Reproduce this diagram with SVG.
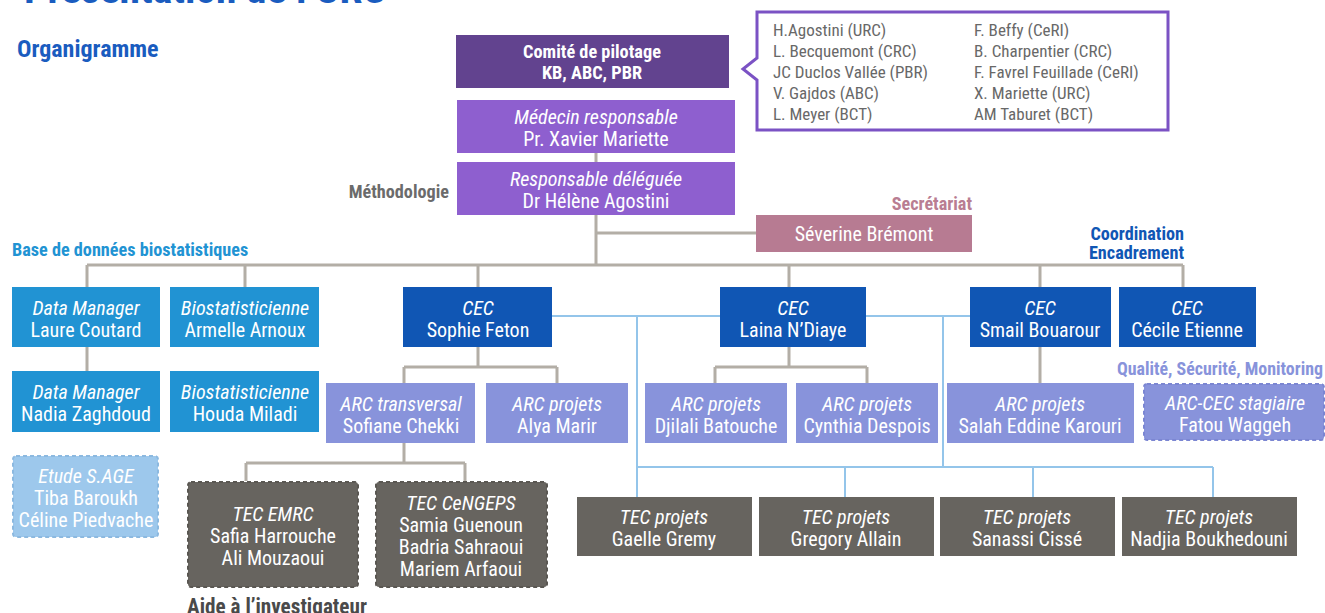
<svg xmlns="http://www.w3.org/2000/svg" width="1325" height="613" viewBox="0 0 1325 613">
<style>
text{font-family:Roboto,"Liberation Sans",sans-serif;font-stretch:condensed;}
.n{font-size:20px;fill:#fff;text-anchor:middle;}
.s15{font-size:18.3px;}
.i{font-style:italic;}
.b{font-weight:bold;}
.lbl{font-weight:bold;font-size:18.2px;}
.cl{font-size:17px;fill:#686868;}
.g{stroke:#b3aea6;stroke-width:3;fill:none;}
.bl{stroke:#94c5ea;stroke-width:2;fill:none;}
.dm{fill:#2193d3;}
.cec{fill:#1056b4;}
.arc{fill:#8893db;}
.tec{fill:#67645f;}
</style>
<rect width="1325" height="613" fill="#fff"/>
<text x="24" y="3" font-size="41.5" font-weight="bold" fill="#1a5cbf">Présentation de l’URC</text>
<text x="17" y="57" font-size="24" class="b" fill="#1a5cbf">Organigramme</text>
<text x="449" y="198" class="lbl" fill="#6b6b6b" text-anchor="end">Méthodologie</text>
<text x="972" y="210" class="lbl" fill="#b97d92" text-anchor="end">Secrétariat</text>
<text x="12" y="256" class="lbl" fill="#2193d3">Base de données biostatistiques</text>
<text x="1184" y="240" class="lbl" fill="#1056b4" text-anchor="end">Coordination</text>
<text x="1184" y="259" class="lbl" fill="#1056b4" text-anchor="end">Encadrement</text>
<text x="1117" y="375" class="lbl" fill="#8893db" style="font-size:17.9px">Qualité, Sécurité, Monitoring</text>
<text x="187" y="614" class="lbl" fill="#4a4a4a" style="font-size:21.2px">Aide à l’investigateur</text>

<g id="connectors">
<path class="g" d="M596,153V162M596,215V265M596,233H756M87,265H1183M87,265V287M245,265V287M478,265V287M789,265V287M1040,265V287M1183,265V287M87,347V371"/>
<path class="g" d="M478,347V367M404,367H557M404,367V383M557,367V383M789,347V367M715,367H867M715,367V383M867,367V383M1040,347V383"/>
<path class="g" d="M404,443V463M246,463H465M246,463V481M465,463V481"/>
<path class="bl" d="M552,316H720M866,316H970M637,316V497M943,316V467M637,467H1213M845,467V497M1033,467V497M1213,467V497"/>
</g>

<g id="comite"><rect x="456" y="35" width="273" height="53" fill="#62438f"/>
<text x="592" y="58" class="n b s15">Comité de pilotage</text><text x="592" y="79" class="n b s15">KB, ABC, PBR</text></g>
<g id="callout"><path d="M757,12H1168V130H757V80L743,69L757,58Z" fill="#fff" stroke="#7b52c4" stroke-width="3"/>
<text class="cl"><tspan x="773" y="36">H.Agostini (URC)</tspan><tspan x="773" y="57">L. Becquemont (CRC)</tspan><tspan x="773" y="78">JC Duclos Vallée (PBR)</tspan><tspan x="773" y="99">V. Gajdos (ABC)</tspan><tspan x="773" y="120">L. Meyer (BCT)</tspan></text>
<text class="cl"><tspan x="974" y="36">F. Beffy (CeRI)</tspan><tspan x="974" y="57">B. Charpentier (CRC)</tspan><tspan x="974" y="78">F. Favrel Feuillade (CeRI)</tspan><tspan x="974" y="99">X. Mariette (URC)</tspan><tspan x="974" y="120">AM Taburet (BCT)</tspan></text></g>
<g id="medecin"><rect x="457" y="100" width="278" height="53" fill="#8e5fcf"/>
<text x="596" y="124" class="n i">Médecin responsable</text><text x="596" y="146" class="n">Pr. Xavier Mariette</text></g>
<g id="responsable"><rect x="457" y="162" width="278" height="53" fill="#8e5fcf"/>
<text x="596" y="186" class="n i">Responsable déléguée</text><text x="596" y="208" class="n">Dr Hélène Agostini</text></g>
<g id="severine"><rect x="756" y="215" width="216" height="37" fill="#b77b92"/>
<text x="864" y="241" class="n">Séverine Brémont</text></g>

<g id="dm1"><rect class="dm" x="12" y="287" width="148" height="60"/><text x="86" y="315" class="n i">Data Manager</text><text x="86" y="337" class="n">Laure Coutard</text></g>
<g id="bio1"><rect class="dm" x="170" y="287" width="149" height="60"/><text x="245" y="315" class="n i">Biostatisticienne</text><text x="245" y="337" class="n">Armelle Arnoux</text></g>
<g id="dm2"><rect class="dm" x="12" y="371" width="148" height="61"/><text x="86" y="399" class="n i">Data Manager</text><text x="86" y="421" class="n">Nadia Zaghdoud</text></g>
<g id="bio2"><rect class="dm" x="170" y="371" width="149" height="61"/><text x="245" y="399" class="n i">Biostatisticienne</text><text x="245" y="421" class="n">Houda Miladi</text></g>
<g id="sage"><rect x="13" y="456" width="145" height="81" rx="3" fill="#9dc8ec" stroke="#8cb9e0" stroke-width="2" stroke-dasharray="4 3"/>
<text x="86" y="483" class="n i">Etude S.AGE</text><text x="86" y="505" class="n">Tiba Baroukh</text><text x="86" y="527" class="n">Céline Piedvache</text></g>

<g id="cec1"><rect class="cec" x="403" y="287" width="149" height="60"/><text x="478" y="315" class="n i">CEC</text><text x="478" y="337" class="n">Sophie Feton</text></g>
<g id="cec2"><rect class="cec" x="720" y="287" width="146" height="60"/><text x="793" y="315" class="n i">CEC</text><text x="793" y="337" class="n">Laina N’Diaye</text></g>
<g id="cec3"><rect class="cec" x="970" y="287" width="141" height="60"/><text x="1040" y="315" class="n i">CEC</text><text x="1040" y="337" class="n">Smail Bouarour</text></g>
<g id="cec4"><rect class="cec" x="1119" y="287" width="137" height="60"/><text x="1187" y="315" class="n i">CEC</text><text x="1187" y="337" class="n">Cécile Etienne</text></g>

<g id="arc1"><rect class="arc" x="326" y="383" width="149" height="60"/><text x="401" y="411" class="n i">ARC transversal</text><text x="401" y="433" class="n">Sofiane Chekki</text></g>
<g id="arc2"><rect class="arc" x="486" y="383" width="142" height="60"/><text x="557" y="411" class="n i">ARC projets</text><text x="557" y="433" class="n">Alya Marir</text></g>
<g id="arc3"><rect class="arc" x="645" y="383" width="142" height="60"/><text x="716" y="411" class="n i">ARC projets</text><text x="716" y="433" class="n">Djilali Batouche</text></g>
<g id="arc4"><rect class="arc" x="796" y="383" width="142" height="60"/><text x="867" y="411" class="n i">ARC projets</text><text x="867" y="433" class="n">Cynthia Despois</text></g>
<g id="arc5"><rect class="arc" x="947" y="383" width="187" height="60"/><text x="1040" y="411" class="n i">ARC projets</text><text x="1040" y="433" class="n">Salah Eddine Karouri</text></g>
<g id="arc6"><rect x="1144" y="384" width="180" height="56" rx="3" fill="#8893db" stroke="#7b86d2" stroke-width="2" stroke-dasharray="4 3"/><text x="1235" y="410" class="n i">ARC-CEC stagiaire</text><text x="1235" y="432" class="n">Fatou Waggeh</text></g>

<g id="tecemrc"><rect x="188" y="482" width="170" height="105" rx="3" fill="#67645f" stroke="#5a5752" stroke-width="2" stroke-dasharray="4 3"/>
<text x="273" y="521" class="n i">TEC EMRC</text><text x="273" y="543" class="n">Safia Harrouche</text><text x="273" y="565" class="n">Ali Mouzaoui</text></g>
<g id="teccengeps"><rect x="376" y="482" width="171" height="105" rx="3" fill="#67645f" stroke="#5a5752" stroke-width="2" stroke-dasharray="4 3"/>
<text x="461" y="510" class="n i">TEC CeNGEPS</text><text x="461" y="532" class="n">Samia Guenoun</text><text x="461" y="554" class="n">Badria Sahraoui</text><text x="461" y="576" class="n">Mariem Arfaoui</text></g>

<g id="tec1"><rect class="tec" x="577" y="497" width="175" height="59"/><text x="664" y="524" class="n i">TEC projets</text><text x="664" y="546" class="n">Gaelle Gremy</text></g>
<g id="tec2"><rect class="tec" x="759" y="497" width="175" height="59"/><text x="846" y="524" class="n i">TEC projets</text><text x="846" y="546" class="n">Gregory Allain</text></g>
<g id="tec3"><rect class="tec" x="940" y="497" width="175" height="59"/><text x="1027" y="524" class="n i">TEC projets</text><text x="1027" y="546" class="n">Sanassi Cissé</text></g>
<g id="tec4"><rect class="tec" x="1122" y="497" width="175" height="59"/><text x="1209" y="524" class="n i">TEC projets</text><text x="1209" y="546" class="n">Nadjia Boukhedouni</text></g>
</svg>
